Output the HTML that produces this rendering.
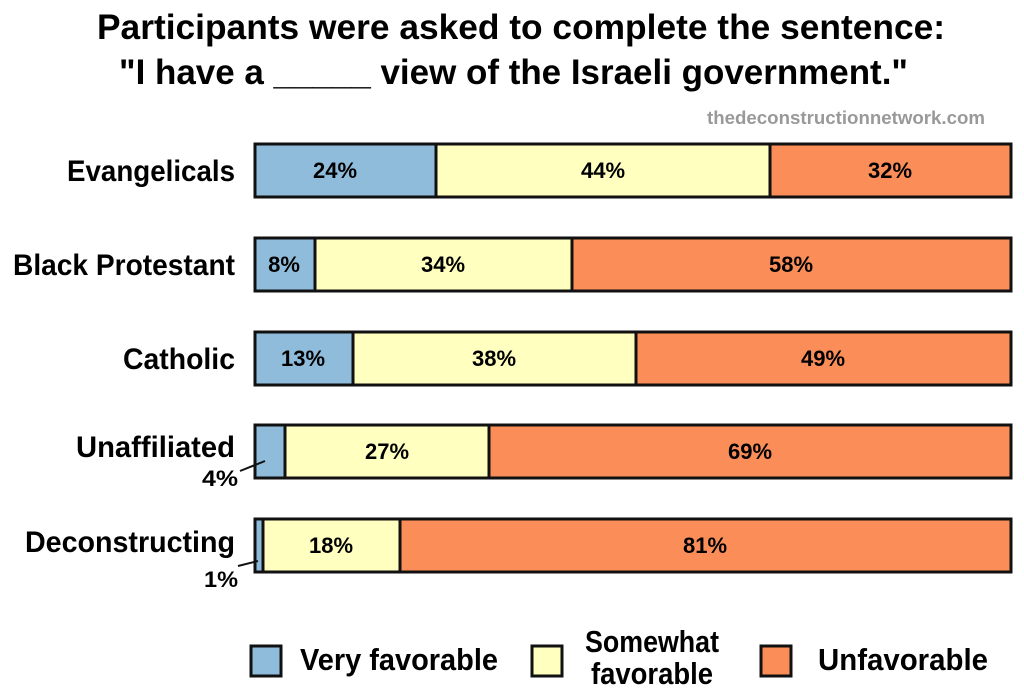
<!DOCTYPE html>
<html><head><meta charset="utf-8"><style>body{margin:0;background:#fff}svg{display:block}text{font-family:"Liberation Sans",sans-serif;font-weight:bold}</style></head>
<body>
<svg width="1024" height="696" viewBox="0 0 1024 696">
<text x="97" y="39" font-size="35" textLength="848" lengthAdjust="spacingAndGlyphs">Participants were asked to complete the sentence:</text>
<text x="119" y="84" font-size="35" textLength="789" lengthAdjust="spacingAndGlyphs">"I have a _____ view of the Israeli government."</text>
<text x="707" y="124" font-size="18" fill="#999" textLength="278" lengthAdjust="spacingAndGlyphs">thedeconstructionnetwork.com</text>
<g stroke="#111" stroke-width="3">
<rect x="255" y="144" width="181" height="53" fill="#8fbcdb"/><rect x="436" y="144" width="334" height="53" fill="#ffffc0"/><rect x="770" y="144" width="241" height="53" fill="#fb8d58"/>
<rect x="255" y="238" width="60" height="53" fill="#8fbcdb"/><rect x="315" y="238" width="257" height="53" fill="#ffffc0"/><rect x="572" y="238" width="439" height="53" fill="#fb8d58"/>
<rect x="255" y="332" width="98" height="53" fill="#8fbcdb"/><rect x="353" y="332" width="283" height="53" fill="#ffffc0"/><rect x="636" y="332" width="375" height="53" fill="#fb8d58"/>
<rect x="255" y="425" width="30" height="53" fill="#8fbcdb"/><rect x="285" y="425" width="204" height="53" fill="#ffffc0"/><rect x="489" y="425" width="522" height="53" fill="#fb8d58"/>
<rect x="255" y="519" width="8" height="53" fill="#8fbcdb"/><rect x="263" y="519" width="137" height="53" fill="#ffffc0"/><rect x="400" y="519" width="611" height="53" fill="#fb8d58"/>
</g>
<line x1="240" y1="471" x2="265" y2="461" stroke="#111" stroke-width="2"/>
<line x1="238" y1="566" x2="258" y2="561" stroke="#111" stroke-width="2"/>
<g font-size="30" text-anchor="end">
<text x="235" y="181" textLength="168" lengthAdjust="spacingAndGlyphs">Evangelicals</text>
<text x="235" y="275" textLength="222" lengthAdjust="spacingAndGlyphs">Black Protestant</text>
<text x="235" y="369" textLength="112" lengthAdjust="spacingAndGlyphs">Catholic</text>
<text x="235" y="457" textLength="159" lengthAdjust="spacingAndGlyphs">Unaffiliated</text>
<text x="238" y="486" font-size="22" textLength="36" lengthAdjust="spacingAndGlyphs">4%</text>
<text x="235" y="552" textLength="210" lengthAdjust="spacingAndGlyphs">Deconstructing</text>
<text x="238" y="587" font-size="22" textLength="34" lengthAdjust="spacingAndGlyphs">1%</text>
</g>
<g font-size="22" text-anchor="middle">
<text x="335" y="178">24%</text><text x="603" y="178">44%</text><text x="890" y="178">32%</text>
<text x="284" y="272">8%</text><text x="443" y="272">34%</text><text x="791" y="272">58%</text>
<text x="303" y="366">13%</text><text x="494" y="366">38%</text><text x="823" y="366">49%</text>
<text x="387" y="459">27%</text><text x="750" y="459">69%</text>
<text x="331" y="553">18%</text><text x="705" y="553">81%</text>
</g>
<g stroke="#111" stroke-width="3">
<rect x="251" y="646" width="30" height="30" fill="#8fbcdb"/>
<rect x="532" y="646" width="30" height="30" fill="#ffffc0"/>
<rect x="761" y="646" width="30" height="30" fill="#fb8d58"/>
</g>
<g font-size="31">
<text x="300" y="670" textLength="198" lengthAdjust="spacingAndGlyphs">Very favorable</text>
<text x="652" y="652" text-anchor="middle" textLength="134" lengthAdjust="spacingAndGlyphs">Somewhat</text>
<text x="652" y="684" text-anchor="middle" textLength="122" lengthAdjust="spacingAndGlyphs">favorable</text>
<text x="818" y="670" textLength="170" lengthAdjust="spacingAndGlyphs">Unfavorable</text>
</g>
</svg>
</body></html>
